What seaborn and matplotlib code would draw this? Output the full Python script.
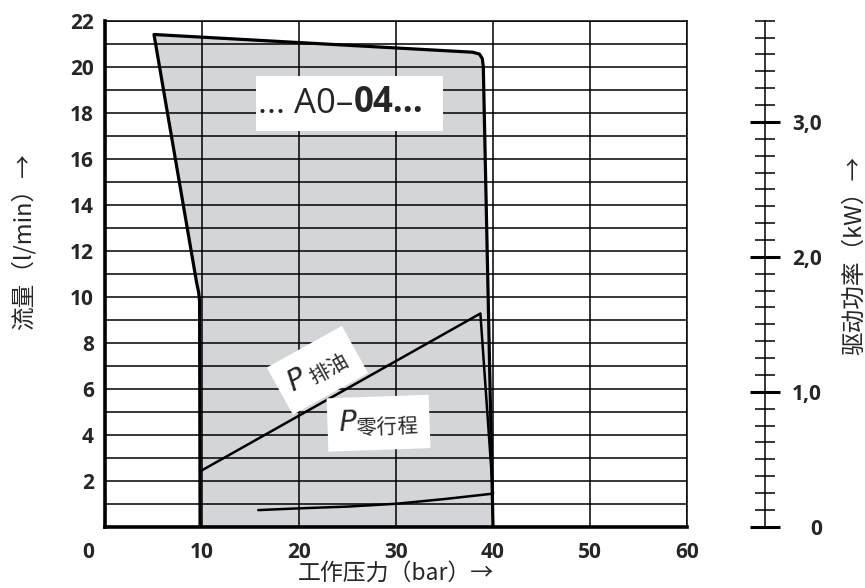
import numpy as np
import matplotlib.pyplot as plt
import seaborn as sns
from matplotlib.patches import Rectangle
from matplotlib.transforms import ScaledTranslation

# working range envelope (pressure in bar, flow in l/min)
env_bar = [9.8, 9.75, 9.65, 9.45, 5.05, 37.9, 38.6, 38.9, 39.0, 40.0]
env_flow = [0.0, 9.8, 10.2, 10.6, 21.4, 20.63, 20.55, 20.35, 20.0, 0.0]

# drive power curves (kW)
drain_bar = [9.8, 38.7, 40.0]
drain_kw = [0.41, 1.58, 0.245]
zero_bar = [15.8, 20, 25, 30, 35, 40]
zero_kw = [0.123, 0.136, 0.149, 0.17, 0.205, 0.245]

x_ticks = [0, 10, 20, 30, 40, 50, 60]
y_ticks = list(range(0, 23))
y_labels = [str(v) if v % 2 == 0 and v > 0 else '' for v in y_ticks]
kw_ticks = [0, 1, 2, 3]
kw_labels = ['0', '1,0', '2,0', '3,0']
kw_max = 3.75

sns.set_theme(style='white')
plt.rcParams['font.family'] = ['Noto Sans CJK SC', 'DejaVu Sans']
plt.rcParams['mathtext.fontset'] = 'custom'
plt.rcParams['mathtext.rm'] = 'Noto Sans CJK SC'
plt.rcParams['mathtext.it'] = 'DejaVu Sans:italic'

W, H = 865, 588
fig = plt.figure(figsize=(W / 100, H / 100), dpi=100)
ax = fig.add_axes([105 / W, 61.3 / H, 582 / W, 506 / H])

ax.fill(env_bar, env_flow, color='#d4d5d9', lw=0, zorder=0.5)
sns.lineplot(x=env_bar, y=env_flow, sort=False, estimator=None, color='black',
             lw=2.3, ax=ax, zorder=3)

ax.set_xticks(x_ticks)
ax.set_yticks(y_ticks, labels=y_labels)
ax.grid(True, color='black', lw=1.1)
ax.set_axisbelow(False)
ax.tick_params(length=0, labelsize=15)
ax.tick_params(axis='x', pad=11)
ax.tick_params(axis='y', pad=8)
for lbl in ax.get_xticklabels() + ax.get_yticklabels():
    lbl.set_fontfamily('Open Sans')
    lbl.set_fontweight('bold')
# origin label sits left of the corner
first = ax.get_xticklabels()[0]
first.set_transform(first.get_transform() + ScaledTranslation(-0.17, 0, fig.dpi_scale_trans))

for side in ['left', 'bottom']:
    ax.spines[side].set_linewidth(2.6)
for side in ['top', 'right']:
    ax.spines[side].set_linewidth(1.1)
for sp in ax.spines.values():
    sp.set_color('black')

# power scale on a separate spine to the right
ax2 = ax.twinx()
sns.lineplot(x=drain_bar, y=drain_kw, sort=False, estimator=None, color='black',
             lw=1.8, ax=ax2)
sns.lineplot(x=zero_bar, y=zero_kw, sort=False, estimator=None, color='black',
             lw=1.8, ax=ax2)
for side in ['left', 'top', 'bottom']:
    ax2.spines[side].set_visible(False)
ax2.spines['right'].set_position(('axes', 660 / 582))
ax2.spines['right'].set_linewidth(1.1)
ax2.spines['right'].set_color('black')
ax2.set_ylim(0, kw_max)
ax2.set_yticks(kw_ticks, labels=kw_labels)
ax2.set_yticks(np.arange(0, kw_max + 0.01, 0.125), minor=True)
ax2.tick_params(which='major', direction='inout', length=21.6, width=2.2,
                pad=30, labelsize=15, color='black')
ax2.tick_params(which='minor', direction='inout', length=14.4, width=1.1, color='black')
for lbl in ax2.get_yticklabels():
    lbl.set_ha('right')
    lbl.set_fontfamily('Open Sans')
    lbl.set_fontweight('bold')
ax2.set_xlabel('')
ax2.set_ylabel('')

ax.set_xlim(0, 60)
ax.set_ylim(0, 22)
ax.set_xlabel('')
ax.set_ylabel('')

# type label box
ax.add_patch(Rectangle((15.6, 17.2), 19.2, 2.4, facecolor='white', edgecolor='none', zorder=4))
t1 = ax.text(15.8, 17.97, '... A0\u2013', fontsize=25, fontfamily='Open Sans',
             va='baseline', zorder=5)
ax.annotate('04...', xy=(1, 0), xycoords=t1, fontsize=25, fontfamily='Open Sans',
            fontweight='bold', va='bottom', ha='left', zorder=5)

box = dict(facecolor='white', edgecolor='none', pad=8)
ax2.text(21.9, 6.8, r'$P\,_{\mathrm{排油}}$', transform=ax.transData, rotation=29,
         rotation_mode='anchor', ha='center', va='center', fontsize=21, bbox=box, zorder=5)
ax2.text(28.2, 4.5, r'$P_{\mathrm{零行程}}$', transform=ax.transData, rotation=2,
         rotation_mode='anchor', ha='center', va='center', fontsize=21, bbox=box, zorder=5)

fig.text(396 / W, 1 - 573 / H, '工作压力（bar）→', fontsize=16.5, ha='center', va='center')
fig.text(23 / W, 1 - 242 / H, '流量（l/min）→', fontsize=17, rotation=90,
         ha='center', va='center')
fig.text(855 / W, 1 - 255 / H, '驱动功率（kW）→', fontsize=17, rotation=90,
         ha='center', va='center')

fig.savefig('out.png', dpi=100)
